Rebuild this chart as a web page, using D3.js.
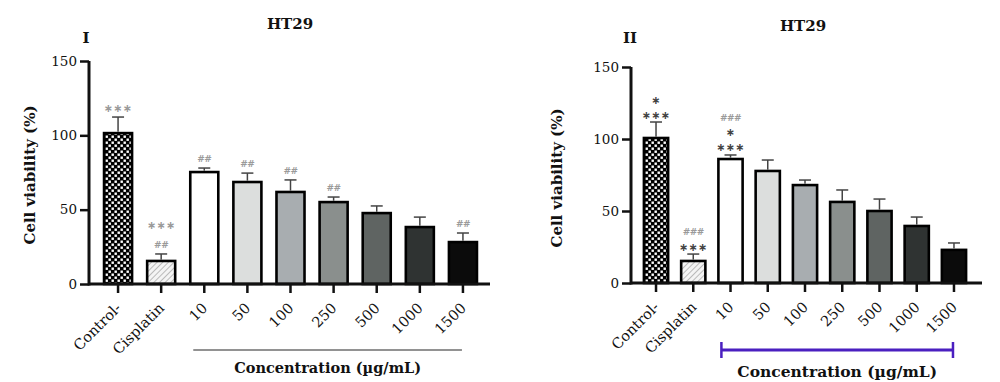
<!DOCTYPE html>
<html><head><meta charset="utf-8">
<script src="https://cdn.jsdelivr.net/npm/d3@7"></script>
<style>body{margin:0;background:#fff}svg{display:block}</style>
</head><body>
<svg id="c" width="1000" height="382"></svg>
<script>
const categories = ["Control-","Cisplatin","10","50","100","250","500","1000","1500"];
const yTicks = [0,50,100,150];
const meanI = [101.5,15.5,75.3,68.6,61.9,55.1,47.7,38.3,28.2];
const errI  = [112.3,20.2,78,74.6,70,58.5,52.5,45,34.3];
const meanII = [100.7,15.3,86.1,77.8,68,56.3,50,39.6,23];
const errII  = [111.8,20.1,88.9,85.4,71.5,64.6,58.3,45.8,27.8];
// annotations listed bottom-to-top above each error bar
const annotI = [["∗∗∗"],["##","∗∗∗"],["##"],["##"],["##"],["##"],[],[],["##"]];
const annotII = [["∗∗∗","∗"],["∗∗∗","###"],["∗∗∗","∗","###"],[],[],[],[],[],[]];
const fills = ["url(#checker)","url(#hatch)","#ffffff","#dcdedd","#a8adb0","#8a8f8d","#5f6462","#2f3332","#0b0b0b"];

const svg = d3.select("#c");
const defs = svg.append("defs");
const ck = defs.append("pattern").attr("id","checker").attr("patternUnits","userSpaceOnUse").attr("width",6).attr("height",6);
ck.append("rect").attr("width",6).attr("height",6).attr("fill","#000");
ck.append("rect").attr("x",0.5).attr("y",0.5).attr("width",2.4).attr("height",2.4).attr("fill","#fff");
ck.append("rect").attr("x",3.5).attr("y",3.5).attr("width",2.4).attr("height",2.4).attr("fill","#fff");
const ht = defs.append("pattern").attr("id","hatch").attr("patternUnits","userSpaceOnUse").attr("width",4).attr("height",4).attr("patternTransform","rotate(45)");
ht.append("rect").attr("width",4).attr("height",4).attr("fill","#f4f4f4");
ht.append("line").attr("x1",0).attr("y1",0).attr("x2",0).attr("y2",4).attr("stroke","#9a9a9a").attr("stroke-width",1.3);

const serif = "'DejaVu Serif', serif";

function panel(o){
  const g = svg.append("g");
  const y = d3.scaleLinear().domain([0,150]).range([o.y0,o.y150]);
  const x = d3.scaleBand().domain(categories).range([o.xr0,o.xr1]).padding(0);
  const bw = x.bandwidth()*o.barFrac;
  const cx = c => x(c)+x.bandwidth()/2;

  g.selectAll("rect.bar").data(categories).join("rect").attr("class","bar")
    .attr("x",d=>cx(d)-bw/2).attr("width",bw)
    .attr("y",(d,i)=>y(o.mean[i])).attr("height",(d,i)=>y(0)-y(o.mean[i]))
    .attr("fill",(d,i)=>fills[i]).attr("stroke","#000").attr("stroke-width",2.6);
  const eb = g.selectAll("g.eb").data(categories).join("g").attr("class","eb");
  eb.append("line").attr("x1",d=>cx(d)).attr("x2",d=>cx(d))
    .attr("y1",(d,i)=>y(o.mean[i])-1.3).attr("y2",(d,i)=>y(o.err[i]))
    .attr("stroke","#444").attr("stroke-width",1.5);
  eb.append("line").attr("x1",d=>cx(d)-o.cap).attr("x2",d=>cx(d)+o.cap)
    .attr("y1",(d,i)=>y(o.err[i])).attr("y2",(d,i)=>y(o.err[i]))
    .attr("stroke","#444").attr("stroke-width",1.5);
  categories.forEach((c,i)=>{
    o.annot[i].forEach((t,k)=>{
      const isHash = t.indexOf("#")>=0;
      g.append("text").attr("x",cx(c)).attr("y",y(o.err[i])-o.a0-k*o.aStep)
        .attr("text-anchor","middle").attr("dominant-baseline","central")
        .attr("font-family","'DejaVu Sans', sans-serif")
        .attr("font-size",isHash?9:11).attr("font-weight","bold")
        .attr("fill",(isHash||o.grayStars)?"#9a9a9a":"#444")
        .attr("letter-spacing",isHash?-0.5:0.3)
        .text(t);
    });
  });
  const ya = g.append("g").attr("transform",`translate(${o.xAxis},0)`)
    .call(d3.axisLeft(y).tickValues(yTicks).tickSize(9).tickSizeOuter(0).tickPadding(3));
  ya.select(".domain").attr("stroke","#111").attr("stroke-width",3).attr("d",`M0,${o.y150}V${o.y0+1.5}`);
  ya.selectAll(".tick line").attr("stroke","#111").attr("stroke-width",2.5);
  ya.selectAll(".tick text").attr("font-family",serif).attr("font-size",13.5).attr("fill","#111");
  g.append("line").attr("x1",o.xAxis).attr("x2",o.xEnd).attr("y1",y(0)).attr("y2",y(0))
    .attr("stroke","#111").attr("stroke-width",3);
  const xa = g.append("g").attr("transform",`translate(0,${y(0)})`)
    .call(d3.axisBottom(x).tickSize(9).tickSizeOuter(0));
  xa.select(".domain").remove();
  xa.selectAll(".tick line").attr("stroke","#111").attr("stroke-width",2.5);
  xa.selectAll(".tick text").attr("font-family",serif).attr("font-size",14.5).attr("fill","#111")
    .attr("text-anchor","end").attr("y",0).attr("dy",0)
    .attr("transform","translate(4,25) rotate(-45)");
  g.append("text").attr("x",o.titleX).attr("y",o.titleY).attr("text-anchor","middle")
    .attr("font-family",serif).attr("font-weight","bold").attr("font-size",15).attr("fill","#111").text("HT29");
  g.append("text").attr("x",o.romanX).attr("y",43).attr("text-anchor","middle")
    .attr("font-family",serif).attr("font-weight","bold").attr("font-size",15).attr("fill","#111").text(o.roman);
  g.append("text").attr("transform",`translate(${o.ytX},${o.ytY}) rotate(-90)`).attr("text-anchor","middle")
    .attr("font-family",serif).attr("font-weight","bold").attr("font-size",15).attr("fill","#111").text("Cell viability (%)");
  const lx0 = cx("10")-bw/2+3, lx1 = cx("1500")-1;
  g.append("line").attr("x1",lx0).attr("x2",lx1).attr("y1",o.lineY).attr("y2",o.lineY)
    .attr("stroke",o.lineColor).attr("stroke-width",o.lineW);
  if(o.caps){
    [lx0,lx1].forEach(xx=>g.append("line").attr("x1",xx).attr("x2",xx).attr("y1",o.lineY-8).attr("y2",o.lineY+8)
      .attr("stroke",o.lineColor).attr("stroke-width",2.5));
  }
  g.append("text").attr("x",(lx0+lx1)/2).attr("y",o.concY).attr("text-anchor","middle")
    .attr("font-family",serif).attr("font-weight","bold").attr("font-size",o.concSize).attr("fill","#111")
    .text("Concentration (µg/mL)");
}

panel({y0:284,y150:61,xr0:96.5,xr1:484.5,barFrac:0.65,xAxis:89,xEnd:490,cap:6,
  mean:meanI,err:errI,annot:annotI,a0:9,aStep:19,grayStars:true,
  titleX:290,titleY:29,roman:"I",romanX:86,ytX:35,ytY:175,
  lineY:350,lineColor:"#6e6e6e",lineW:1.5,caps:false,concY:373,concSize:14.5});
panel({y0:283,y150:67,xr0:637.4,xr1:972.6,barFrac:0.65,xAxis:631,xEnd:982,cap:6,
  mean:meanII,err:errII,annot:annotII,a0:7,aStep:15,grayStars:false,
  titleX:803,titleY:31,roman:"II",romanX:630,ytX:562,ytY:178,
  lineY:350,lineColor:"#4a1fc0",lineW:3,caps:true,concY:377,concSize:15.5});
</script>
</body></html>
